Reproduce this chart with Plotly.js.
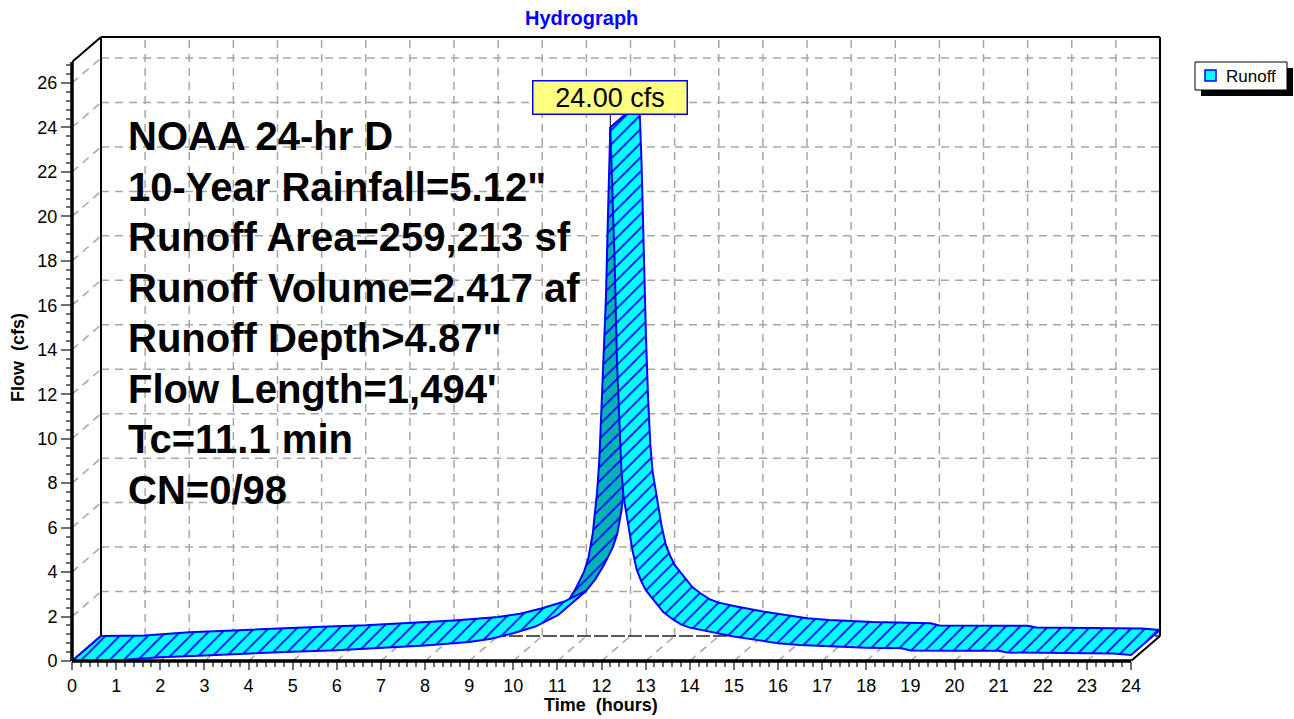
<!DOCTYPE html>
<html><head><meta charset="utf-8">
<script src="https://cdn.plot.ly/plotly-3.0.1.min.js"></script>
<style>html,body{margin:0;padding:0;background:#fff}#chart{width:1294px;height:719px}</style>
</head><body><div id="chart"></div>
<script>
// ---- data ----
const time = [0,1,1.5,2,3,4,5,6,7,8,9,9.5,10,10.5,11,11.2,11.4,11.6,11.7,11.8,11.9,11.95,12,12.05,12.1,12.15,12.2,12.25,12.3,12.35,12.4,12.45,12.5,12.6,12.7,12.8,12.9,13,13.2,13.4,13.6,13.8,14,14.4,15,15.5,16,16.5,17,17.5,18,18.8,19,20,21,21.2,22,23,23.6,24];
const flow = [0,0.02,0.1,0.17,0.25,0.35,0.42,0.48,0.58,0.7,0.85,1.0,1.25,1.55,2.05,2.55,3.2,4.0,4.6,5.7,7.6,9.0,11.4,13.5,16.3,20.3,24.0,21.3,17.8,13.5,10.6,8.6,7.4,6.2,5.0,4.1,3.6,3.2,2.7,2.2,1.9,1.65,1.5,1.33,1.1,0.95,0.8,0.72,0.68,0.63,0.6,0.57,0.47,0.46,0.46,0.38,0.36,0.35,0.34,0.27];
const xTickVals = [0,1,2,3,4,5,6,7,8,9,10,11,12,13,14,15,16,17,18,19,20,21,22,23,24];
const xTickText = xTickVals.map(String);
const yTickVals = [0,2,4,6,8,10,12,14,16,18,20,22,24,26];
const yTickText = yTickVals.map(String);
const seriesName = 'Runoff';
const chartTitle = 'Hydrograph';
const xTitle = 'Time \u00a0(hours)';
const yTitle = 'Flow \u00a0(cfs)';
const infoLines = ['NOAA 24-hr D','10-Year Rainfall=5.12"','Runoff Area=259,213 sf','Runoff Volume=2.417 af','Runoff Depth>4.87"',"Flow Length=1,494'",'Tc=11.1 min','CN=0/98'];

// ---- geometry ----
const W=1294,H=719;
const L=72, X24=1131, Rpx=1164, Y0=661, Y26=83, Tpx=33;
const sx=(X24-L)/24, sy=(Y0-Y26)/26;
const xmax=(Rpx-L)/sx, ymax=(Y0-Tpx)/sy;
const DX=29/sx, DY=25/sy;
const backTop=(Y0-37)/sy, frontTop=backTop-DY;
const xEnd = xTickVals[xTickVals.length-1];
const px=(p)=>(p-L)/(Rpx-L), py=(p)=>(Y0-p)/(Y0-Tpx);
const FONT='Liberation Sans, Arial, Helvetica, sans-serif';

function segTrace(list, line){
  const x=[],y=[];
  list.forEach(s=>{x.push(s[0],s[2],null);y.push(s[1],s[3],null);});
  return {type:'scatter',mode:'lines',x,y,line,hoverinfo:'skip',showlegend:false};
}
const traces=[];
const grid=[];
yTickVals.filter(v=>v>0).forEach(v=>{grid.push([DX,v+DY,xEnd+DX,v+DY]);grid.push([0,v,DX,v+DY]);});
xTickVals.filter(v=>v>0&&v<xEnd).forEach(v=>{grid.push([v+DX,DY,v+DX,backTop]);grid.push([v,0,v+DX,DY]);});
traces.push(segTrace(grid,{color:'#a6a6a6',width:1.5,dash:'8px,6px'}));
traces.push(segTrace([[DX,DY,xEnd+DX,DY]],{color:'#202020',width:1.5,dash:'14px,3px'}));
traces.push(segTrace([[0,frontTop,DX,backTop],[DX,backTop,xEnd+DX,backTop],[DX,DY,DX,backTop],[xEnd+DX,DY,xEnd+DX,backTop],[xEnd,0,xEnd+DX,DY],[0,0,DX,DY]],{color:'#000',width:2}));

function side(i){
  const fx=(time[i+1]-time[i])*sx, fy=-(flow[i+1]-flow[i])*sy;
  return (fx*(-25) - fy*29) > 0 ? 'under' : 'top';
}
const groups=[]; let start=0, cur=side(0);
for(let i=1;i<time.length-1;i++){const s=side(i); if(s!==cur){groups.push({a:start,b:i,s:cur});start=i;cur=s;}}
groups.push({a:start,b:time.length-1,s:cur});
function ribbon(g){
  const x=[],y=[];
  for(let i=g.a;i<=g.b;i++){x.push(time[i]);y.push(flow[i]);}
  for(let i=g.b;i>=g.a;i--){x.push(time[i]+DX);y.push(flow[i]+DY);}
  x.push(time[g.a]);y.push(flow[g.a]);
  const bg=g.s==='top'?'#00FFFF':'#00B4B4';
  return {type:'scatter',mode:'lines',x,y,fill:'toself',fillcolor:bg,
    fillpattern:{shape:'/',bgcolor:bg,fgcolor:'#0000FF',size:10,solidity:0.18},
    line:{color:'#0000FF',width:2},name:seriesName,showlegend:false,hoverinfo:'skip'};
}
groups.filter(g=>g.s==='under').forEach(g=>traces.push(ribbon(g)));
groups.filter(g=>g.s==='top').forEach(g=>traces.push(ribbon(g)));

let pk=0; flow.forEach((v,i)=>{if(v>flow[pk])pk=i;});

const annotations=[
  {xref:'paper',yref:'paper',x:px(581),y:py(18),text:chartTitle,showarrow:false,xanchor:'center',yanchor:'middle',font:{family:FONT,size:20,color:'#0000FF',weight:700}},
  {xref:'paper',yref:'paper',x:px(601),y:py(705),text:xTitle,showarrow:false,xanchor:'center',yanchor:'middle',font:{family:FONT,size:18,color:'#000',weight:700}},
  {xref:'paper',yref:'paper',x:px(18),y:py(358),text:yTitle,textangle:-90,showarrow:false,xanchor:'center',yanchor:'middle',font:{family:FONT,size:18,color:'#000',weight:700}},
  {xref:'x',yref:'y',x:time[pk],y:flow[pk],text:flow[pk].toFixed(2)+' cfs',showarrow:true,arrowhead:0,arrowwidth:1,arrowcolor:'#000',ax:0,ay:-30,
    bgcolor:'#FFFF80',bordercolor:'#0000FF',borderwidth:1.5,borderpad:1,width:151,height:30,font:{family:FONT,size:27,color:'#000'}},
  {xref:'paper',yref:'paper',x:px(1224),y:py(76),text:seriesName,showarrow:false,xanchor:'left',yanchor:'middle',font:{family:FONT,size:17,color:'#000'}}
];
infoLines.forEach((t,i)=>annotations.push({xref:'paper',yref:'paper',x:px(126),y:py(136+i*50.5),text:t,showarrow:false,xanchor:'left',yanchor:'middle',font:{family:FONT,size:40,color:'#000',weight:700}}));

const shapes=[
  {type:'line',xref:'paper',yref:'paper',x0:0,y0:0,x1:0,y1:frontTop/ymax,line:{color:'#000',width:3.5},layer:'above'},
  {type:'line',xref:'paper',yref:'paper',x0:0,y0:0,x1:xEnd/xmax,y1:0,line:{color:'#000',width:3.5},layer:'above'},
  {type:'rect',xref:'paper',yref:'paper',x0:px(1201),x1:px(1293),y0:py(96),y1:py(68),fillcolor:'#000',line:{width:0}},
  {type:'rect',xref:'paper',yref:'paper',x0:px(1195),x1:px(1287),y0:py(90),y1:py(62),fillcolor:'#fff',line:{color:'#000',width:1}},
  {type:'rect',xref:'paper',yref:'paper',x0:px(1205),x1:px(1216),y0:py(81),y1:py(70),fillcolor:'#00FFFF',line:{color:'#0000FF',width:1.5}}
];

const minorX=[]; for(let i=0;i<=120;i++){if(i%5)minorX.push(i/5);}
const minorY=[]; for(let i=0;i<=67;i++){if(i%5)minorY.push(i*0.4);}
const tickFont={family:FONT,size:18,color:'#000'};
const layout={
  width:W,height:H,margin:{l:L,r:W-Rpx,t:Tpx,b:H-Y0,pad:0},
  paper_bgcolor:'#fff',plot_bgcolor:'#fff',showlegend:false,
  xaxis:{range:[0,xmax],tickmode:'array',tickvals:xTickVals,ticktext:xTickText,ticks:'outside',ticklen:8,tickwidth:2,tickcolor:'#707070',
    minor:{tickmode:'array',tickvals:minorX,ticks:'outside',ticklen:5,tickwidth:2,tickcolor:'#707070'},
    tickfont:tickFont,showgrid:false,zeroline:false,showline:false,fixedrange:true},
  yaxis:{range:[0,ymax],tickmode:'array',tickvals:yTickVals,ticktext:yTickText,ticks:'outside',ticklen:10,tickwidth:2,tickcolor:'#707070',
    minor:{tickmode:'array',tickvals:minorY,ticks:'outside',ticklen:5,tickwidth:2,tickcolor:'#707070'},
    tickfont:tickFont,showgrid:false,zeroline:false,showline:false,fixedrange:true},
  annotations,shapes
};
Plotly.newPlot('chart',traces,layout,{staticPlot:true,displayModeBar:false});
</script></body></html>
